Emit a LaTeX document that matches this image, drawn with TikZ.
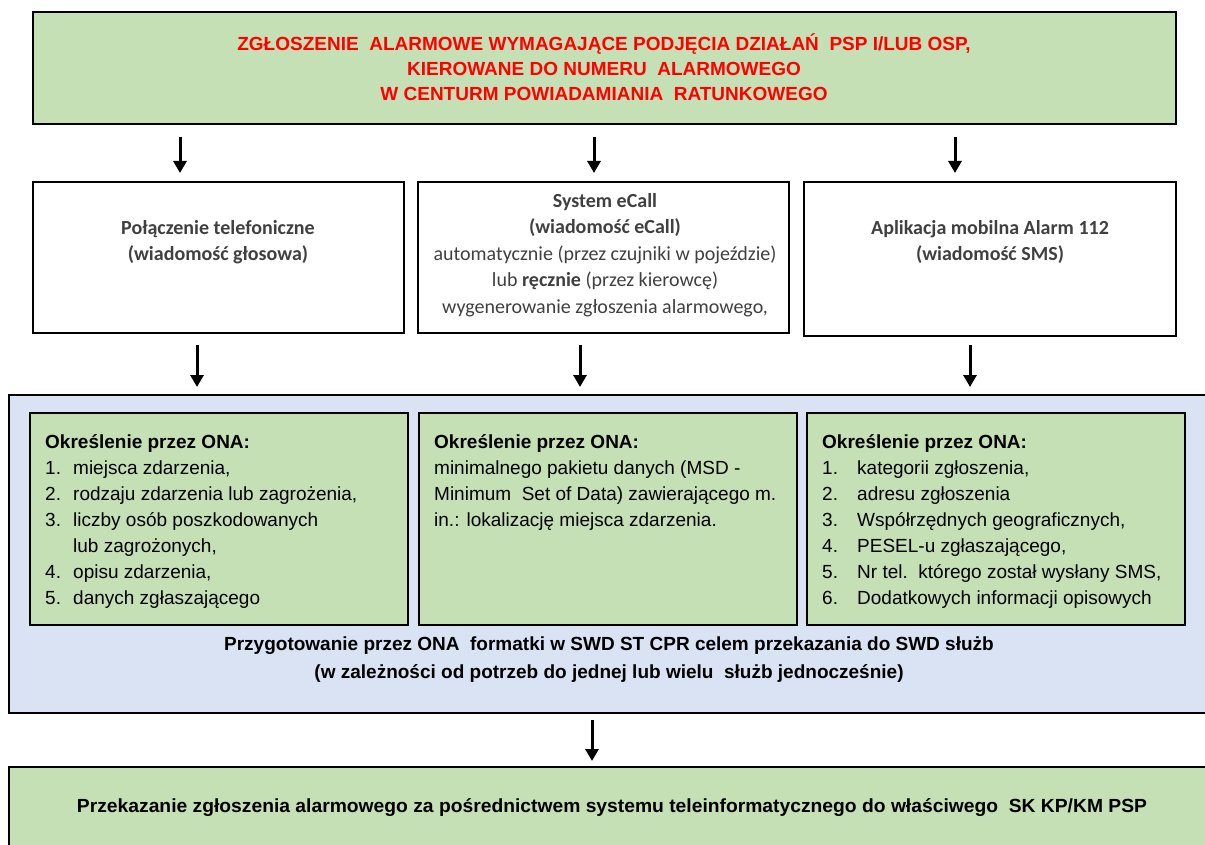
\documentclass[tikz,border=0pt]{standalone}
\usepackage{fontspec}
\setmainfont{Liberation Sans}
\newfontfamily\calib{Carlito}
\usetikzlibrary{arrows.meta}
\definecolor{boxgreen}{HTML}{C5E0B4}
\definecolor{boxblue}{HTML}{DAE3F3}
\definecolor{txtgray}{HTML}{404040}
\begin{document}
\begin{tikzpicture}[x=1pt,y=-1pt,
  box/.style={draw=black, line width=2pt, inner sep=0pt, outer sep=0pt, rectangle, anchor=north west},
  greenbox/.style={box, fill=boxgreen},
  whitebox/.style={box, fill=white, line width=1.6pt},
  bluebox/.style={box, fill=boxblue},
  arr/.style={line width=3pt, -{Triangle[width=13pt,length=12pt]}},
  redtxt/.style={font=\fontsize{19}{25}\selectfont\bfseries, text=red, align=center, inner sep=0pt},
  graytxt/.style={font=\calib\fontsize{20}{26.5}\selectfont, text=txtgray, align=center, inner sep=0pt},
  listtxt/.style={font=\fontsize{19}{26}\selectfont, align=left, inner sep=0pt, anchor=north west},
  boldtxt/.style={font=\fontsize{19}{28}\selectfont\bfseries, align=center, inner sep=0pt}
]
\useasboundingbox (0,0) rectangle (1205,845);

% top box
\node[greenbox, minimum width=1143pt, minimum height=112pt] (top) at (33,12) {};
\node[redtxt] (toptxt) at (604,67.5) {ZGŁOSZENIE\ \ ALARMOWE WYMAGAJĄCE PODJĘCIA DZIAŁAŃ\ \ PSP I/LUB OSP,\\KIEROWANE DO NUMERU\ \ ALARMOWEGO\\W CENTURM POWIADAMIANIA\ \ RATUNKOWEGO};

% middle boxes
\node[whitebox, minimum width=371pt, minimum height=151pt] (m1) at (33,182) {};
\node[whitebox, minimum width=371pt, minimum height=151pt] (m2) at (418,182) {};
\node[whitebox, minimum width=372pt, minimum height=154pt] (m3) at (804,182) {};

\node[graytxt] (m1txt) at (218,242) {\textbf{Połączenie telefoniczne}\\\textbf{(wiadomość głosowa)}};
\node[graytxt] (m2txt) at (605,255) {\textbf{System eCall}\\\textbf{(wiadomość eCall)}\\automatycznie (przez czujniki w pojeździe)\\lub \textbf{ręcznie} (przez\ kierowcę)\\wygenerowanie zgłoszenia alarmowego,};
\node[graytxt] (m3txt) at (990,242) {\textbf{Aplikacja mobilna\ Alarm 112}\\\textbf{(wiadomość SMS)}};

% blue box
\node[bluebox, minimum width=1206pt, minimum height=318pt] (blue) at (9,395) {};
\node[greenbox, minimum width=378pt, minimum height=212pt] (g1) at (30,413) {};
\node[greenbox, minimum width=378pt, minimum height=212pt] (g2) at (419,413) {};
\node[greenbox, minimum width=378pt, minimum height=212pt] (g3) at (807,413) {};

\node[listtxt] (g1txt) at (45,434) {\textbf{Określenie przez ONA:}\\
\makebox[28pt][l]{1.}miejsca zdarzenia,\\
\makebox[28pt][l]{2.}rodzaju\ zdarzenia lub\ zagrożenia,\\
\makebox[28pt][l]{3.}liczby\ osób poszkodowanych\\
\hspace*{28pt}lub zagrożonych,\\
\makebox[28pt][l]{4.}opisu zdarzenia,\\
\makebox[28pt][l]{5.}danych zgłaszającego};

\node[listtxt] (g2txt) at (434,434) {\textbf{Określenie przez ONA:}\\
minimalnego\ pakietu danych (MSD -\\
Minimum\ \ Set of Data) zawierającego m.\\
in.: lokalizację\ miejsca zdarzenia.};

\node[listtxt] (g3txt) at (822,434) {\textbf{Określenie przez ONA:}\\
\makebox[35pt][l]{1.}kategorii zgłoszenia,\\
\makebox[35pt][l]{2.}adresu zgłoszenia\\
\makebox[35pt][l]{3.}Współrzędnych geograficznych,\\
\makebox[35pt][l]{4.}PESEL-u zgłaszającego,\\
\makebox[35pt][l]{5.}Nr tel.\ \ którego został wysłany SMS,\\
\makebox[35pt][l]{6.}Dodatkowych informacji opisowych};

\node[boldtxt] (bluetxt) at (609,660) {Przygotowanie przez ONA\ \ formatki w SWD ST CPR celem przekazania do SWD służb\\(w zależności od potrzeb do jednej lub wielu\ \ służb jednocześnie)};

% bottom box
\node[greenbox, minimum width=1206pt, minimum height=100pt] (bottom) at (9,767) {};
\node[font=\fontsize{19}{24}\selectfont\bfseries, inner sep=0pt] (bottomtxt) at (612,808) {\resizebox{1070pt}{\height}{Przekazanie zgłoszenia alarmowego za pośrednictwem systemu teleinformatycznego do właściwego\ \ SK KP/KM PSP}};

% arrow x positions
\coordinate (x1) at (180,0);
\coordinate (x2) at (594,0);
\coordinate (x3) at (955,0);
\coordinate (y1) at (197,0);
\coordinate (y2) at (580,0);
\coordinate (y3) at (970,0);
\coordinate (z1) at (592,0);

\draw[arr, shorten <=13pt, shorten >=9pt] (top.south -| x1) -- (m1.north -| x1);
\draw[arr, shorten <=13pt, shorten >=9pt] (top.south -| x2) -- (m2.north -| x2);
\draw[arr, shorten <=13pt, shorten >=9pt] (top.south -| x3) -- (m3.north -| x3);

\draw[arr, shorten <=12pt, shorten >=8pt] (m1.south -| y1) -- (blue.north -| y1);
\draw[arr, shorten <=12pt, shorten >=8pt] (m2.south -| y2) -- (blue.north -| y2);
\draw[arr, shorten <=9pt, shorten >=8pt] (m3.south -| y3) -- (blue.north -| y3);

\draw[arr, shorten <=7pt, shorten >=6pt] (blue.south -| z1) -- (bottom.north -| z1);
\end{tikzpicture}
\end{document}
